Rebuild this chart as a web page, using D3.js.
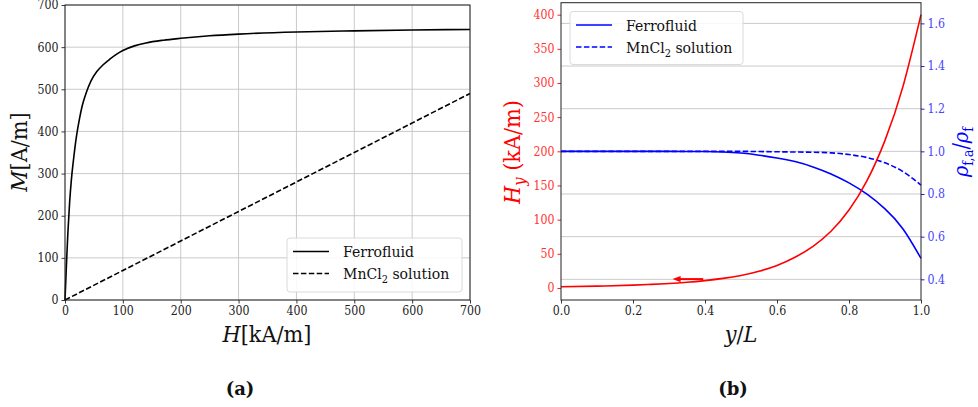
<!DOCTYPE html>
<html>
<head>
<meta charset="utf-8">
<script src="https://cdn.jsdelivr.net/npm/d3@7"></script>
<style>
  html, body { margin: 0; padding: 0; background: #fff; }
  svg { display: block; }
  svg text { font-stretch: condensed; }
</style>
</head>
<body>
<svg id="fig" width="978" height="407"></svg>
<script>
// ---- (a) magnetisation curves ----
const ferroH = [0, 1.5, 3, 5, 8, 11, 14, 17, 20, 25, 30, 37, 45, 55, 65, 78, 90, 100, 120, 140, 170, 200, 250, 300, 400, 500, 600, 700];
const ferroM = [0, 50, 100, 160, 232, 285, 325, 360, 390, 430, 462, 493, 520, 542, 557, 572, 584, 592, 603, 610, 616.5, 621, 627, 631, 636, 638.7, 640.6, 642];
const mnclH = [0, 100, 200, 300, 400, 500, 600, 700];
const mnclM = [0, 70, 140, 210, 280, 350, 420, 490];
const ticksA = [0, 100, 200, 300, 400, 500, 600, 700];

// ---- (b) field and apparent density along the channel ----
const yOverL = [0, 0.1, 0.2, 0.25, 0.3, 0.35, 0.4, 0.45, 0.5, 0.55, 0.6, 0.65, 0.7, 0.75, 0.8, 0.85, 0.9, 0.95, 1.0];
const fieldHy = [1.9, 2.7, 4.2, 5.2, 6.5, 8.3, 10.8, 14.0, 18.3, 24.5, 33, 45, 61, 83, 114, 157, 216, 295, 400];
const rhoFerro = [1.0, 1.0, 1.0, 1.0, 1.0, 0.9995, 0.999, 0.997, 0.992, 0.982, 0.969, 0.952, 0.927, 0.894, 0.852, 0.799, 0.730, 0.636, 0.498];
const rhoMncl = [1.0, 1.0, 1.0, 1.0, 1.0, 1.0, 1.0, 1.0, 1.0, 0.999, 0.998, 0.997, 0.996, 0.993, 0.985, 0.971, 0.946, 0.905, 0.842];
const ticksBx = [0, 0.2, 0.4, 0.6, 0.8, 1.0];
const ticksBl = [0, 50, 100, 150, 200, 250, 300, 350, 400];
const ticksBr = [0.4, 0.6, 0.8, 1.0, 1.2, 1.4, 1.6];
// arrow pointing the red curve to its (left) axis, in data units
const arrowFrom = [0.395, 13];
const arrowTo = [0.31, 13];

const legendNames = ["Ferrofluid", "MnCl"];

const svg = d3.select("#fig");
const SERIF = '"DejaVu Serif Condensed", "DejaVu Serif", serif';
const GRID = "#c4c4c4";
const FRAME = "#222";
const RED = "#ff0000", BLUE = "#0000ff";
const RED_TXT = "#ff3434", BLUE_TXT = "#4646ff";
const DASH = "5.5,2.4";

// pick font sizes so that reference strings take the intended widths
function textWidth(str, size, italic) {
  const t = svg.append("text").style("font-family", SERIF).style("font-size", size + "px")
    .style("font-style", italic ? "italic" : "normal").text(str);
  const w = t.node().getComputedTextLength();
  t.remove();
  return w;
}
const TICK_FS = 100 * 21 / textWidth("400", 100);
const LEG_FS = 100 * 71 / textWidth("Ferrofluid", 100);
const LAB_FS = 100 * 89 / (textWidth("H", 100, true) + textWidth("[kA/m]", 100));

function zip(a, b) { return a.map((v, i) => [v, b[i]]); }

// ================= panel (a) =================
const xA = d3.scaleLinear().domain([0, 700]).range([65, 470]);
const yA = d3.scaleLinear().domain([0, 700]).range([300, 5]);
const gA = svg.append("g");

gA.append("g").selectAll("line").data(ticksA).join("line")
  .attr("x1", d => xA(d)).attr("x2", d => xA(d)).attr("y1", yA.range()[0]).attr("y2", yA.range()[1])
  .attr("stroke", GRID).attr("stroke-width", 0.9);
gA.append("g").selectAll("line").data(ticksA).join("line")
  .attr("y1", d => yA(d)).attr("y2", d => yA(d)).attr("x1", xA.range()[0]).attr("x2", xA.range()[1])
  .attr("stroke", GRID).attr("stroke-width", 0.9);

const lineA = d3.line().x(d => xA(d[0])).y(d => yA(d[1])).curve(d3.curveMonotoneX);
gA.append("path").datum(zip(ferroH, ferroM)).attr("d", lineA)
  .attr("fill", "none").attr("stroke", "#000").attr("stroke-width", 1.6);
gA.append("path").datum(zip(mnclH, mnclM)).attr("d", lineA)
  .attr("fill", "none").attr("stroke", "#000").attr("stroke-width", 1.6).attr("stroke-dasharray", DASH);

function styleAxis(g, color, txtColor) {
  g.select(".domain").remove();
  g.selectAll(".tick line").attr("stroke", color).attr("stroke-width", 0.9);
  g.selectAll(".tick text").attr("fill", txtColor).style("font-family", SERIF).style("font-size", TICK_FS + "px");
}
gA.append("g").attr("transform", "translate(0,300)")
  .call(d3.axisBottom(xA).tickValues(ticksA).tickSize(3.5).tickPadding(3).tickFormat(d3.format("d")))
  .call(g => styleAxis(g, FRAME, "#222"));
gA.append("g").attr("transform", "translate(65,0)")
  .call(d3.axisLeft(yA).tickValues(ticksA).tickSize(3.5).tickPadding(3).tickFormat(d3.format("d")))
  .call(g => styleAxis(g, FRAME, "#222"));

gA.append("rect").attr("x", 65).attr("y", 5).attr("width", 405).attr("height", 295)
  .attr("fill", "none").attr("stroke", FRAME).attr("stroke-width", 1);

const hLab = gA.append("text").attr("x", 267).attr("y", 342).attr("text-anchor", "middle")
  .style("font-family", SERIF).style("font-size", LAB_FS + "px").attr("fill", "#111");
hLab.append("tspan").style("font-style", "italic").text("H");
hLab.append("tspan").text("[kA/m]");
const mLab = gA.append("text").attr("transform", "translate(27,152) rotate(-90)").attr("text-anchor", "middle")
  .style("font-family", SERIF).style("font-size", LAB_FS + "px").attr("fill", "#111");
mLab.append("tspan").style("font-style", "italic").text("M");
mLab.append("tspan").text("[A/m]");

function legend(g, x, y, w, h, color) {
  g.append("rect").attr("x", x).attr("y", y).attr("width", w).attr("height", h).attr("rx", 3)
    .attr("fill", "#fff").attr("fill-opacity", 0.85).attr("stroke", "#d6d6d6").attr("stroke-width", 0.9);
  const rows = [y + 13.5, y + 35.5];
  rows.forEach((ry, i) => {
    g.append("line").attr("x1", x + 6).attr("x2", x + 42).attr("y1", ry).attr("y2", ry)
      .attr("stroke", color).attr("stroke-width", 1.6).attr("stroke-dasharray", i ? DASH : null);
    const t = g.append("text").attr("x", x + 56).attr("y", ry + 5.5)
      .style("font-family", SERIF).style("font-size", LEG_FS + "px").attr("fill", "#111");
    t.append("tspan").text(legendNames[i]);
    if (i) {
      t.append("tspan").attr("dy", 4).style("font-size", (LEG_FS * 0.7) + "px").text("2");
      t.append("tspan").attr("dy", -4).text(" solution");
    }
  });
}
legend(gA, 287, 238, 175, 54, "#000");

// ================= panel (b) =================
const xB = d3.scaleLinear().domain([0, 1]).range([561, 921]);
const yBL = d3.scaleLinear().domain([-17.6, 417.5]).range([300, 2.7]);
const yBR = d3.scaleLinear().domain([0.303, 1.697]).range([300, 2.7]);
const gB = svg.append("g");

gB.append("g").selectAll("line").data(ticksBr).join("line")
  .attr("y1", d => yBR(d)).attr("y2", d => yBR(d)).attr("x1", 561).attr("x2", 921)
  .attr("stroke", GRID).attr("stroke-width", 0.9);

const lineHy = d3.line().x((d, i) => xB(yOverL[i])).y(d => yBL(d)).curve(d3.curveNatural);
const lineRho = d3.line().x((d, i) => xB(yOverL[i])).y(d => yBR(d)).curve(d3.curveNatural);

gB.append("path").datum(rhoMncl).attr("d", lineRho).attr("fill", "none")
  .attr("stroke", BLUE).attr("stroke-width", 1.6).attr("stroke-dasharray", DASH);
gB.append("path").datum(rhoFerro).attr("d", lineRho).attr("fill", "none")
  .attr("stroke", BLUE).attr("stroke-width", 1.6);
gB.append("path").datum(fieldHy).attr("d", lineHy).attr("fill", "none")
  .attr("stroke", RED).attr("stroke-width", 1.6);

const ax0 = xB(arrowFrom[0]), ay = yBL(arrowFrom[1]), ax1 = xB(arrowTo[0]);
gB.append("line").attr("x1", ax0).attr("x2", ax1 + 6).attr("y1", ay).attr("y2", ay)
  .attr("stroke", RED).attr("stroke-width", 2);
gB.append("path").attr("d", `M${ax1},${ay} L${ax1 + 8},${ay - 3.2} L${ax1 + 8},${ay + 3.2} Z`).attr("fill", RED);

gB.append("g").attr("transform", "translate(0,300)")
  .call(d3.axisBottom(xB).tickValues(ticksBx).tickSize(3.5).tickPadding(3).tickFormat(d3.format(".1f")))
  .call(g => styleAxis(g, FRAME, "#222"));
gB.append("g").attr("transform", "translate(561,0)")
  .call(d3.axisLeft(yBL).tickValues(ticksBl).tickSize(3.5).tickPadding(3).tickFormat(d3.format("d")))
  .call(g => styleAxis(g, RED, RED_TXT));
gB.append("g").attr("transform", "translate(921,0)")
  .call(d3.axisRight(yBR).tickValues(ticksBr).tickSize(3.5).tickPadding(3).tickFormat(d3.format(".1f")))
  .call(g => styleAxis(g, BLUE, BLUE_TXT));

gB.append("rect").attr("x", 561).attr("y", 2.7).attr("width", 360).attr("height", 297.3)
  .attr("fill", "none").attr("stroke", FRAME).attr("stroke-width", 1);

legend(gB, 570, 11.5, 173, 53, BLUE);

const yLab = gB.append("text").attr("x", 741).attr("y", 342).attr("text-anchor", "middle")
  .style("font-family", SERIF).style("font-size", LAB_FS + "px").attr("fill", "#111");
yLab.append("tspan").style("font-style", "italic").text("y");
yLab.append("tspan").text("/");
yLab.append("tspan").style("font-style", "italic").text("L");

const hyLab = gB.append("text").attr("transform", "translate(520,152) rotate(-90)").attr("text-anchor", "middle")
  .style("font-family", SERIF).style("font-size", LAB_FS + "px").attr("fill", RED);
hyLab.append("tspan").style("font-style", "italic").text("H");
hyLab.append("tspan").attr("dy", 5).style("font-style", "italic").style("font-size", (LAB_FS * 0.7) + "px").text("y");
hyLab.append("tspan").attr("dy", -5).text(" (kA/m)");

const rhoLab = gB.append("text").attr("transform", "translate(968,152) rotate(-90)").attr("text-anchor", "middle")
  .style("font-family", SERIF).style("font-size", (LAB_FS * 0.92) + "px").attr("fill", BLUE);
rhoLab.append("tspan").style("font-style", "italic").text("ρ");
rhoLab.append("tspan").attr("dy", 5).style("font-size", (LAB_FS * 0.62) + "px").text("f,a");
rhoLab.append("tspan").attr("dy", -5).text("/");
rhoLab.append("tspan").style("font-style", "italic").text("ρ");
rhoLab.append("tspan").attr("dy", 5).style("font-size", (LAB_FS * 0.62) + "px").text("f");

// sub-captions
[["(a)", 240], ["(b)", 733]].forEach(([t, x]) => {
  svg.append("text").attr("x", x).attr("y", 395).attr("text-anchor", "middle")
    .style("font-family", '"DejaVu Serif", serif').style("font-weight", "bold").style("font-size", "18px")
    .style("font-stretch", "normal").attr("fill", "#111").text(t);
});
</script>
</body>
</html>
